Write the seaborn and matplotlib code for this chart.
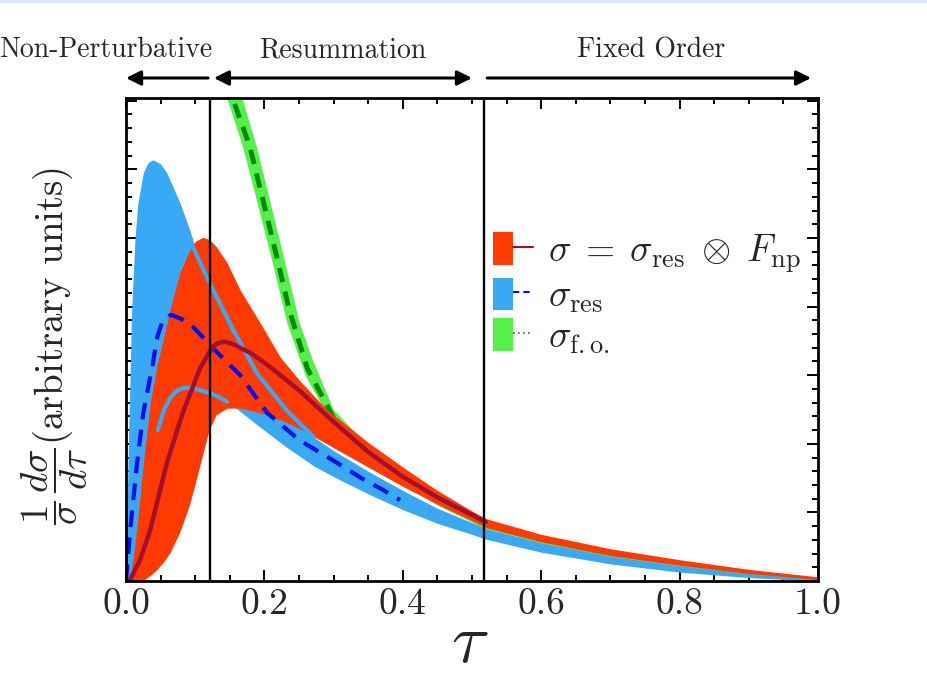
import numpy as np
import pandas as pd
import matplotlib
matplotlib.use("Agg")
import matplotlib.pyplot as plt
import seaborn as sns
from matplotlib.patches import Patch, Rectangle
from matplotlib.lines import Line2D
from matplotlib.legend_handler import HandlerTuple
from matplotlib.ticker import MultipleLocator, FormatStrFormatter

# ---------------- data ----------------
tau_red = [0, 0.006, 0.012, 0.018, 0.025, 0.035, 0.045, 0.056, 0.064, 0.078, 0.092, 0.10,
           0.111, 0.12, 0.13, 0.146, 0.165, 0.194, 0.223, 0.251, 0.29, 0.35, 0.40, 0.45,
           0.50, 0.52, 0.60, 0.70, 0.80, 0.90, 1.0]
red_upper = [0, 0.05, 0.45, 1.0, 1.72, 2.6, 3.15, 3.62, 3.97, 4.5, 4.82, 4.95,
             5.01, 4.98, 4.88, 4.64, 4.24, 3.76, 3.26, 2.92, 2.5, 2.02, 1.66, 1.32,
             1.02, 0.91, 0.68, 0.47, 0.31, 0.17, 0.06]
red_lower = [0, 0, 0, 0, 0.01, 0.08, 0.17, 0.3, 0.42, 0.72, 1.12, 1.42,
             1.85, 2.2, 2.42, 2.52, 2.52, 2.45, 2.35, 2.22, 2.0, 1.66, 1.38, 1.12,
             0.88, 0.78, 0.57, 0.37, 0.23, 0.11, 0.02]

tau_central = [0.005, 0.02, 0.035, 0.059, 0.082, 0.107, 0.12, 0.131, 0.142, 0.155, 0.179,
               0.203, 0.227, 0.25, 0.30, 0.35, 0.40, 0.45, 0.52]
sigma_central = [0, 0.3, 0.74, 1.72, 2.45, 3.1, 3.33, 3.46, 3.49, 3.45, 3.33,
                 3.16, 2.97, 2.78, 2.32, 1.88, 1.52, 1.22, 0.86]

tau_blue = [0, 0.003, 0.008, 0.013, 0.017, 0.025, 0.032, 0.039, 0.05, 0.059, 0.078, 0.092,
            0.107, 0.126, 0.155, 0.189, 0.232, 0.271, 0.30, 0.35, 0.40, 0.45, 0.50, 0.52,
            0.60, 0.70, 0.80, 0.90, 1.0]
blue_upper = [0, 1.8, 3.9, 5.0, 5.5, 5.95, 6.1, 6.14, 6.08, 5.95, 5.51, 5.12,
              4.64, 4.24, 3.66, 3.03, 2.49, 2.10, 1.9, 1.6, 1.32, 1.06, 0.85, 0.78,
              0.57, 0.39, 0.25, 0.13, 0.03]
blue_lower = [0, 0, 0, 0, 0.02, 0.3, 0.8, 1.4, 2.3, 2.6, 2.8, 2.82,
              2.78, 2.72, 2.55, 2.28, 1.95, 1.68, 1.52, 1.27, 1.04, 0.84, 0.68, 0.61,
              0.42, 0.25, 0.13, 0.05, 0.0]

tau_res = [0, 0.006, 0.016, 0.025, 0.039, 0.045, 0.053, 0.065, 0.08, 0.095, 0.103, 0.13,
           0.165, 0.204, 0.251, 0.299, 0.34, 0.371, 0.396]
sigma_res = [0, 0.74, 1.72, 2.45, 3.18, 3.55, 3.8, 3.88, 3.82, 3.72, 3.64, 3.35,
             3.0, 2.45, 2.05, 1.76, 1.5, 1.33, 1.18]

# visible edges of the sigma_res band drawn over the red band
tau_res_edge_hi = [0.097, 0.107, 0.126, 0.155, 0.189, 0.232, 0.271]
res_edge_hi = [4.87, 4.64, 4.24, 3.66, 3.03, 2.49, 2.10]
tau_res_edge_lo = [0.046, 0.055, 0.064, 0.073, 0.082, 0.095, 0.107, 0.121, 0.135, 0.146]
res_edge_lo = [2.2, 2.5, 2.67, 2.77, 2.81, 2.82, 2.78, 2.74, 2.68, 2.61]

# fixed-order band: left (lower) and right (upper) edges, and central curve
tau_fo_lo = [0.140, 0.147, 0.169, 0.189, 0.212, 0.233, 0.26, 0.30, 0.34, 0.40, 0.45,
             0.52, 0.60, 0.70, 0.80, 0.90, 1.0]
fo_lo = [7.3, 7.01, 6.33, 5.55, 4.64, 3.76, 2.98, 2.26, 1.86, 1.42, 1.1,
         0.755, 0.55, 0.355, 0.215, 0.105, 0.012]
tau_fo_hi = [0.163, 0.169, 0.189, 0.208, 0.230, 0.251, 0.27, 0.30, 0.34, 0.40, 0.45,
             0.52, 0.60, 0.70, 0.80, 0.90, 1.0]
fo_hi = [7.3, 7.01, 6.33, 5.55, 4.64, 3.76, 3.22, 2.5, 2.07, 1.6, 1.26,
         0.82, 0.62, 0.42, 0.27, 0.15, 0.05]
tau_fo = [0.150, 0.155, 0.179, 0.198, 0.218, 0.236, 0.262, 0.30, 0.34, 0.40, 0.45, 0.50]
sigma_fo = [7.3, 7.01, 6.33, 5.55, 4.72, 3.95, 3.1, 2.38, 1.97, 1.51, 1.2, 0.95]

region_labels = ["Non-Perturbative", "Resummation", "Fixed Order"]
region_text_x = [-0.029, 0.314, 0.759]
region_arrows = [(0.1185, 0.0, False), (0.127, 0.50, True), (0.522, 0.99, False)]
vlines = [0.121, 0.517]
legend_labels = [r"$\sigma\;=\;\sigma_{\rm res}\;\otimes\;F_{\rm np}$",
                 r"$\sigma_{\rm res}$", r"$\sigma_{\rm f.o.}$"]
xtick_values = [0.0, 0.2, 0.4, 0.6, 0.8, 1.0]

# ---------------- style ----------------
RED = "#ff3a00"
DKRED = "#a3102e"
BLUE = "#3aa9f5"
DBLUE = "#0010f0"
GREEN = "#55f04a"
DGREEN = "#078a07"

sns.set_style("ticks")
plt.rcParams["mathtext.fontset"] = "cm"
plt.rcParams["font.family"] = ["cmr10", "DejaVu Serif"]
plt.rcParams["axes.unicode_minus"] = False
plt.rcParams["axes.formatter.use_mathtext"] = True

fig = plt.figure(figsize=(9.28, 6.76), dpi=100)
fig.patch.set_facecolor("white")
ax = fig.add_axes([126 / 928, 95 / 676, 692 / 928, 483 / 676])
fig.add_artist(Rectangle((0, 1 - 3 / 676), 1, 3 / 676, transform=fig.transFigure,
                         color="#dbe8f6", lw=0))

# bands: blue, then fixed-order (green), then red on top
ax.fill_between(tau_blue, blue_lower, blue_upper, color=BLUE, lw=0, zorder=1)
ax.fill(list(tau_fo_lo) + list(tau_fo_hi)[::-1], list(fo_lo) + list(fo_hi)[::-1],
        color=GREEN, lw=0, zorder=2)
df_fo = pd.DataFrame({"tau": tau_fo, "sigma": sigma_fo})
sns.lineplot(data=df_fo, x="tau", y="sigma", ax=ax, color=DGREEN, lw=3.5, zorder=2.5)
ax.lines[-1].set_dashes([3, 2])
ax.fill_between(tau_red, red_lower, red_upper, color=RED, lw=0, zorder=3)

# visible blue band edges over the red band
sns.lineplot(x=tau_res_edge_hi, y=res_edge_hi, ax=ax, color=BLUE, lw=3.0, zorder=4)
sns.lineplot(x=tau_res_edge_lo, y=res_edge_lo, ax=ax, color=BLUE, lw=3.0, zorder=4)

# central curves
df_res = pd.DataFrame({"tau": tau_res, "sigma": sigma_res})
sns.lineplot(data=df_res, x="tau", y="sigma", ax=ax, color=DBLUE, lw=3.0, zorder=6)
ax.lines[-1].set_dashes([4, 2.5])
df_c = pd.DataFrame({"tau": tau_central, "sigma": sigma_central})
sns.lineplot(data=df_c, x="tau", y="sigma", ax=ax, color=DKRED, lw=3.2, zorder=7)

for v in vlines:
    ax.axvline(v, color="black", lw=1.7, zorder=8)

ax.set_xlim(0, 1)
ax.set_ylim(0, 7.04)
ax.xaxis.set_major_locator(MultipleLocator(0.2))
ax.xaxis.set_minor_locator(MultipleLocator(0.05))
ax.yaxis.set_major_locator(MultipleLocator(1))
ax.yaxis.set_minor_locator(MultipleLocator(0.2))
ax.set_xticks(xtick_values)
ax.xaxis.set_major_formatter(FormatStrFormatter("%.1f"))
ax.tick_params(which="both", direction="in", top=True, right=True, left=True,
               bottom=True, labelleft=False, width=1.4, color="black")
ax.tick_params(which="major", length=8, labelsize=27, pad=5)
ax.tick_params(which="minor", length=4.5)
for s in ax.spines.values():
    s.set_linewidth(2.0)
    s.set_color("black")
    s.set_zorder(10)

ax.set_xlabel(r"$\tau$", fontsize=50)
ax.xaxis.set_label_coords(0.497, -0.168)
ax.xaxis.label.set_va("baseline")
ax.set_ylabel(r"$\dfrac{1}{\sigma}\,\dfrac{d\sigma}{d\tau}$(arbitrary units)", fontsize=28)
ax.yaxis.set_label_coords(-0.103, 0.486)
ax.yaxis.label.set_va("center")

# region annotations
for lab, xt in zip(region_labels, region_text_x):
    ax.text(xt, 1.099, lab, transform=ax.transAxes, ha="center", va="center",
            fontsize=20, clip_on=False)
for (x0, x1, both) in region_arrows:
    ax.annotate("", xy=(x1, 1.0414), xytext=(x0, 1.0414),
                xycoords="axes fraction", textcoords="axes fraction",
                arrowprops=dict(arrowstyle="<|-|>" if both else "-|>", lw=2.2,
                                color="black", mutation_scale=22,
                                shrinkA=0, shrinkB=0), annotation_clip=False)

# legend
handles = [
    (Patch(facecolor=RED, edgecolor="none"), Line2D([], [], color=DKRED, lw=1.5)),
    (Patch(facecolor=BLUE, edgecolor="none"), Line2D([], [], color=DBLUE, lw=1.5, ls=(0, (3, 2)))),
    (Patch(facecolor=GREEN, edgecolor="none"), Line2D([], [], color=DGREEN, lw=1.2, ls=(0, (1, 2)))),
]
ax.legend(handles=handles, labels=legend_labels,
          handler_map={tuple: HandlerTuple(ndivide=None, pad=0)},
          loc="upper left", bbox_to_anchor=(0.53, 0.722), frameon=False,
          fontsize=27, handlelength=1.07, handleheight=0.95, labelspacing=0.08,
          handletextpad=0.4, borderaxespad=0, borderpad=0)

fig.savefig("out.png", dpi=100)
